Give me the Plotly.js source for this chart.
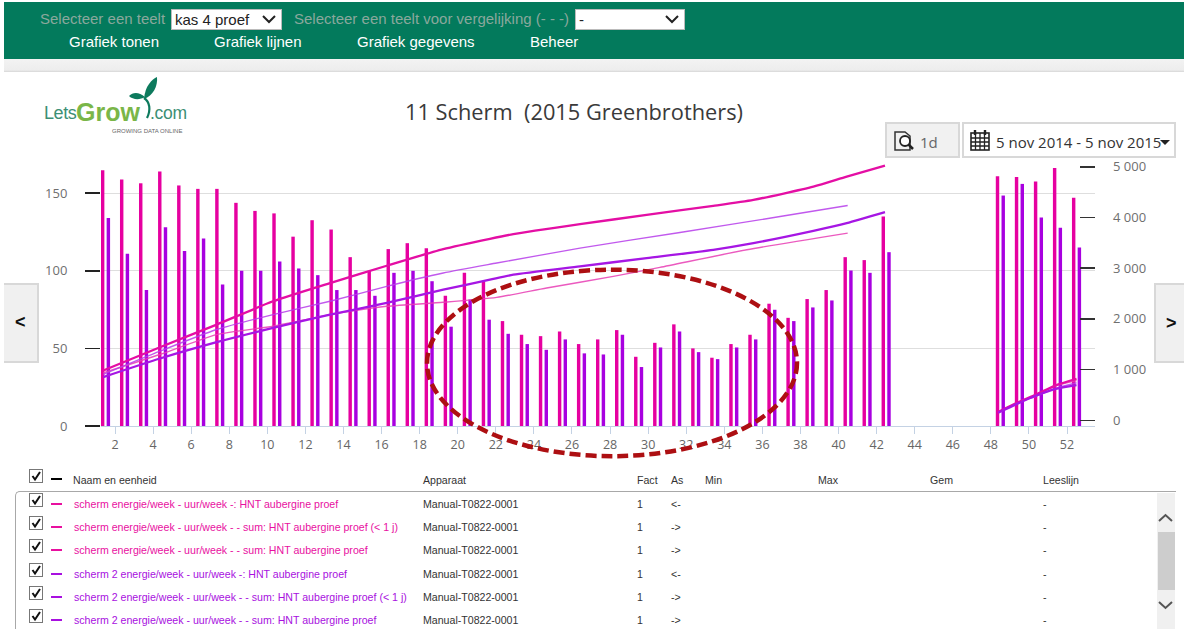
<!DOCTYPE html>
<html>
<head>
<meta charset="utf-8">
<script src="https://cdn.plot.ly/plotly-3.0.1.min.js"></script>
<style>
html,body{margin:0;padding:0;background:#fff;overflow:hidden;width:1184px;height:629px;font-family:"Liberation Sans",Arial,sans-serif}
#chart{position:absolute;left:0;top:0;width:1184px;height:629px}
.abs{position:absolute;white-space:nowrap}
.selbox{position:absolute;background:#fff;border:1px solid #bbb;box-sizing:border-box;color:#222;font-size:15px;line-height:19px;padding-left:3px}
.btn{position:absolute;background:#f0f0f0;border:2px solid #d8d8d8;box-sizing:border-box}
.cb{position:absolute;width:14px;height:14px;border:1px solid #777;box-sizing:border-box;background:#fff}
.cell{position:absolute;white-space:nowrap;font-size:10.6px;color:#333;line-height:12px}
</style>
</head>
<body>
<div id="chart"></div>
<div id="ui"></div>
<script>
// ---------- chart data ----------
const weeks = [1,2,3,4,5,6,7,8,9,10,11,12,13,14,15,16,17,18,19,20,21,22,23,24,25,26,27,28,29,30,31,32,33,34,35,36,37,38,39,40,41,42,43,44,45,46,47,48,49,50,51,52];
const schermWeek = [164.8,158.8,156.4,164,155,152.8,152.8,143.8,138.6,137,122,132.6,126.6,108.8,100,114,117.8,114.6,83.9,98.7,92.9,67.6,58.8,57.9,60.9,52.8,55.8,61.8,44.6,53.6,65.5,50,44,52.8,58.8,78.8,69.7,81.8,87.6,108.8,106.9,135,null,null,null,null,null,161,160.5,157.5,166.3,147];
const scherm2Week = [134,111,87.6,128,112.7,120.8,91.2,100,100,106,101.5,97.2,87.6,87.6,83.9,98.7,100,93.3,64,81.5,68.5,59.4,52.8,49.1,55.8,46.8,46.1,58.8,38,50.6,60.9,47.6,43.1,50.6,55.8,74.9,67.6,76.4,80.9,100.2,98.7,112,null,null,null,null,null,148.5,156,134.3,127.7,115];

const sumX = [1.38,4.36,7.34,10.3,13.29,16.27,19.24,21.69,22.92,26.42,29.92,33.42,35.53,38.68,40.43,42.44,null,48.38,49.4,50.4,51.4,52.5];
const schermSum = [983,1442,1888,2347,2707,3048,3376,3579,3671,3867,4051,4228,4346,4608,4805,5020,null,165,350,512,690,820];
const scherm2Sum = [852,1219,1541,1822,2085,2314,2576,2773,2871,3035,3199,3363,3494,3736,3887,4104,null,150,330,490,620,695];

const schermJaarX = [1.38,4.36,7.34,10.3,13.29,16.27,19.24,22.05,24.67,28.17,30.62,35.18,40.48,null,48.38,49.4,50.4,51.4,52.5];
const schermJaar = [937,1298,1691,1855,2085,2248,2327,2425,2609,2838,3015,3363,3691,null,165,345,505,680,785];
const scherm2JaarX = [1.38,4.36,7.34,10.3,13.29,16.27,19.24,22.05,26.42,31.67,36.93,40.48,null,48.38,49.4,50.4,51.4,52.5];
const scherm2Jaar = [905,1363,1790,2085,2347,2642,2904,3101,3396,3704,4018,4235,null,165,340,480,630,740];

const xTicks = [2,4,6,8,10,12,14,16,18,20,22,24,26,28,30,32,34,36,38,40,42,44,46,48,50,52];
const chartTitle = "11 Scherm&nbsp;&nbsp;(2015 Greenbrothers)";

// ---------- legend table data ----------
const rowNames = [
 "scherm energie/week - uur/week -: HNT aubergine proef",
 "scherm energie/week - uur/week - - sum: HNT aubergine proef (< 1 j)",
 "scherm energie/week - uur/week - - sum: HNT aubergine proef",
 "scherm 2 energie/week - uur/week -: HNT aubergine proef",
 "scherm 2 energie/week - uur/week - - sum: HNT aubergine proef (< 1 j)",
 "scherm 2 energie/week - uur/week - - sum: HNT aubergine proef"];
const rowAxes = ["<-","->","->","<-","->","->"];
const tableHeads = [["Naam en eenheid",73],["Apparaat",423],["Fact",637],["As",671],["Min",705],["Max",818],["Gem",930],["Leeslijn",1043]];

const PINK = "#e600a0", PURPLE = "#a800e0";
const barTrace = (y,c,off,n)=>({type:"bar",name:n,x:weeks,y:y,width:0.18,offset:off,marker:{color:c,line:{width:0}},yaxis:"y"});
const lineTrace = (x,y,c,w,o,n)=>({type:"scatter",mode:"lines",name:n,x:x,y:y,yaxis:"y2",opacity:o,connectgaps:false,line:{color:c,width:w,shape:"spline",smoothing:0.6}});

const traces = [
 barTrace(schermWeek,PINK,0.26,rowNames[0]),
 barTrace(scherm2Week,PURPLE,0.56,rowNames[3]),
 lineTrace(schermJaarX,schermJaar,"#e83db4",1.4,0.85,rowNames[1]),
 lineTrace(scherm2JaarX,scherm2Jaar,"#b63cea",1.4,0.85,rowNames[4]),
 lineTrace(sumX,schermSum,"#e40ea4",2.3,1,rowNames[2]),
 lineTrace(sumX,scherm2Sum,"#a616e4",2.3,1,rowNames[5])
];

const tickFont = {family:"Open Sans, sans-serif",size:13,color:"#6f6f6f"};
const layout = {
 width:1184,height:629,autosize:false,showlegend:false,barmode:"overlay",
 paper_bgcolor:"rgba(0,0,0,0)",plot_bgcolor:"rgba(0,0,0,0)",separators:", ",
 margin:{l:101,r:89,t:160,b:202.5,pad:0},
 title:{text:chartTitle,x:574/1184,xanchor:"center",xref:"container",y:1-112/629,yanchor:"middle",yref:"container",
   font:{family:"Open Sans, sans-serif",size:21.8,color:"#3a3a3a"}},
 xaxis:{range:[1.263,53.47],tickmode:"array",tickvals:xTicks,ticktext:xTicks.map(String),ticks:"outside",ticklen:7,tickwidth:1,tickcolor:"#c4d2e4",
   showline:true,linecolor:"#c4d2e4",linewidth:1,showgrid:false,zeroline:false,tickfont:Object.assign({},tickFont,{size:12.5,color:"#666"}),tickangle:0},
 yaxis:{range:[0,171.4],tickvals:[0,50,100,150],ticks:"outside",ticklen:15,tickwidth:1.5,tickcolor:"#222",gridcolor:"#dedede",gridwidth:1,showgrid:true,zeroline:false,showline:false,
   tickfont:tickFont,ticklabelstandoff:15},
 yaxis2:{overlaying:"y",side:"right",range:[-112,5133],tickvals:[0,1000,2000,3000,4000,5000],tickformat:",d",ticks:"inside",ticklen:15,tickwidth:1.5,tickcolor:"#333",showgrid:false,zeroline:false,showline:false,
   tickfont:tickFont,ticklabelstandoff:17},
 shapes:[
  {type:"circle",xref:"paper",yref:"paper",x0:0.328,x1:0.7002,y0:-0.1136,y1:0.5876,layer:"above",line:{color:"#ad0f12",width:4.5,dash:"11px,5px"}}
 ]
};
Plotly.newPlot("chart",traces,layout,{displayModeBar:false,staticPlot:true});

// ---------- page furniture ----------
const ui = document.getElementById("ui");
function add(html){ui.insertAdjacentHTML("beforeend",html);}
const chev = (x,y,c,w)=>`<svg class="abs" style="left:${x}px;top:${y}px" width="${w}" height="10"><path d="M1 2 L${w/2} 8 L${w-1} 2" fill="none" stroke="${c}" stroke-width="2"/></svg>`;

add(`<div class="abs" style="left:4px;top:2px;width:1180px;height:57px;background:#037a5c"></div>`);
add(`<div class="abs" style="left:4px;top:59px;width:1180px;height:13px;background:linear-gradient(#f3f3f3,#ededed 85%,#d6d6d6)"></div>`);
const GREY = "#8aa89c";
add(`<div class="abs" style="left:40px;top:10px;font-size:15px;line-height:17px;color:${GREY}">Selecteer een teelt</div>`);
add(`<div class="selbox" style="left:171px;top:9px;width:111px;height:21px">kas 4 proef</div>`+chev(262,14,"#222",14));
add(`<div class="abs" style="left:294px;top:10px;font-size:15px;line-height:17px;color:${GREY}">Selecteer een teelt voor vergelijking (- - -)</div>`);
add(`<div class="selbox" style="left:575px;top:9px;width:110px;height:21px">-</div>`+chev(665,14,"#222",14));
[["Grafiek tonen",69],["Grafiek lijnen",214],["Grafiek gegevens",357],["Beheer",530]].forEach(m=>
  add(`<div class="abs" style="left:${m[1]}px;top:33px;font-size:15px;line-height:17px;color:#fff">${m[0]}</div>`));

// logo
add(`<div class="abs" style="left:44px;top:100px;font-size:18px;line-height:26px;color:#3c8f74;letter-spacing:-0.4px">Lets</div>`);
add(`<div class="abs" style="left:76px;top:99px;font-size:25px;line-height:26px;font-weight:bold;color:#7ab648">Grow</div>`);
add(`<div class="abs" style="left:150px;top:100px;font-size:17.5px;line-height:26px;color:#3c8f74;letter-spacing:-0.3px">.com</div>`);
add(`<div class="abs" style="left:112px;top:126.5px;font-size:6px;line-height:8px;color:#666">GROWING DATA ONLINE</div>`);
add(`<svg class="abs" style="left:120px;top:74px" width="45" height="50"><path d="M27 44 C31 36 30 28 24 24" fill="none" stroke="#0d7a5d" stroke-width="2.2"/><path d="M24 25 C25 12 32 5 37 3 C38 12 33 22 24 25 Z" fill="#0d7a5d"/><path d="M25 23 C19 18 13 18 9 22 C13 26 20 26 25 23 Z" fill="#0d7a5d"/></svg>`);

// date buttons
add(`<div class="btn" style="left:885px;top:122px;width:75px;height:36px;background:#f1f1f1"></div>`);
add(`<svg class="abs" style="left:893px;top:130px" width="22" height="22"><path d="M2 20 V2 H12 L17 6 V20 Z" fill="none" stroke="#333" stroke-width="1.5"/><circle cx="12" cy="11" r="5" fill="#fff" stroke="#222" stroke-width="1.8"/><path d="M15.5 14.5 L20 19" stroke="#222" stroke-width="2.5"/></svg>`);
add(`<div class="abs" style="left:920px;top:132px;font-size:15px;line-height:20px;color:#666;font-family:'Open Sans',sans-serif">1d</div>`);
add(`<div class="btn" style="left:962px;top:122px;width:214px;height:36px;background:#fff"></div>`);
add(`<svg class="abs" style="left:970px;top:129px" width="20" height="22"><rect x="1" y="4" width="18" height="17" fill="none" stroke="#222" stroke-width="1.6"/><path d="M1 9H19M1 13H19M1 17H19M5.5 4V21M10 4V21M14.5 4V21" stroke="#222" stroke-width="1.3"/><path d="M5 1V6M15 1V6" stroke="#222" stroke-width="2.4"/></svg>`);
add(`<div class="abs" style="left:996px;top:132px;font-size:15px;line-height:20px;color:#333;font-family:'Open Sans',sans-serif">5 nov 2014 - 5 nov 2015</div>`);
add(`<svg class="abs" style="left:1160px;top:140px" width="10" height="6"><path d="M0 0H10L5 5Z" fill="#222"/></svg>`);

// side arrows
add(`<div class="btn" style="left:4px;top:283px;width:35px;height:80px;border-left:none"></div>`);
add(`<div class="abs" style="left:15px;top:312px;font-size:18px;line-height:20px;color:#111;font-weight:bold">&lt;</div>`);
add(`<div class="btn" style="left:1154px;top:283px;width:30px;height:80px;border-right:none"></div>`);
add(`<div class="abs" style="left:1166px;top:313px;font-size:18px;line-height:20px;color:#111;font-weight:bold">&gt;</div>`);

// table
const checkbox = (x,y)=>`<div class="cb" style="left:${x}px;top:${y}px"><svg width="12" height="12" style="position:absolute;left:0;top:0"><path d="M2.5 6 L5 9.5 L10 2" fill="none" stroke="#111" stroke-width="2"/></svg></div>`;
add(checkbox(29,469));
add(`<div class="abs" style="left:51px;top:478px;width:11px;height:2px;background:#000"></div>`);
tableHeads.forEach(h=>add(`<div class="cell" style="left:${h[1]}px;top:474px">${h[0]}</div>`));
add(`<div class="abs" style="left:15px;top:491px;width:1161px;height:138px;border:1px solid #a8a8a8;border-width:1.5px 0 0 1.5px;border-top-left-radius:5px;box-sizing:border-box"></div>`);
add(`<div class="abs" style="left:1157px;top:493px;width:18px;height:136px;background:#f0f0f0"></div>`);
add(`<div class="abs" style="left:1158px;top:532px;width:17px;height:58px;background:#cdcdcd"></div>`);
add(chev(1158,513,"#555",15).replace('M1 2 L7.5 8 L14 2','M1 8 L7.5 2 L14 8'));
add(chev(1158,600,"#555",15));
const rowY = [504,527,550,574,597,620];
rowNames.forEach((name,i)=>{
  const c = i<3 ? "#e8109f" : "#a810e0";
  const esc = name.replace(/</g,"&lt;");
  add(checkbox(29,rowY[i]-11));
  add(`<div class="abs" style="left:51px;top:${rowY[i]-1}px;width:11px;height:2px;background:${c}"></div>`);
  add(`<div class="cell" style="left:74px;top:${rowY[i]-6}px;color:${c}">${esc}</div>`);
  add(`<div class="cell" style="left:423px;top:${rowY[i]-6}px">Manual-T0822-0001</div>`);
  add(`<div class="cell" style="left:637px;top:${rowY[i]-6}px">1</div>`);
  add(`<div class="cell" style="left:671px;top:${rowY[i]-6}px">${rowAxes[i].replace("<","&lt;").replace(">","&gt;")}</div>`);
  add(`<div class="cell" style="left:1043px;top:${rowY[i]-6}px">-</div>`);
});
</script>
</body>
</html>
